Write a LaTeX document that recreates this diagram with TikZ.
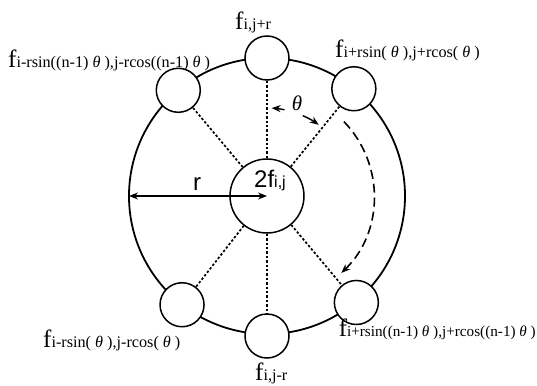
\documentclass[tikz,border=0pt]{standalone}
\usepackage{fontspec}
\setmainfont{Liberation Serif}
\setsansfont{Liberation Sans}
\usetikzlibrary{arrows.meta, positioning, calc}

\newcommand{\fsub}[2][16.2]{{\fontsize{25}{27}\selectfont f}{\fontsize{#1}{18}\selectfont #2}}
\newcommand{\thv}{\textit{θ}}

\begin{document}
\begin{tikzpicture}[x=1pt, y=1pt, >={Stealth[length=9pt, width=7pt]},
    cell/.style={circle, draw, line width=1.5pt, fill=white, minimum size=44pt, inner sep=0pt},
    link/.style={line width=1.7pt, dash pattern=on 2.4pt off 2pt},
    lab/.style={inner sep=0pt, anchor=base west}]
    \useasboundingbox (-267,-189) rectangle (270,196);
    % outer ring and cells
    \draw[line width=1.8pt] (0,0) circle (138);
    \node[cell, minimum size=74pt] (c) at (0,0) {};
    \node[cell] (n) at (90:138) {};
    \node[cell] (ne) at (51:138) {};
    \node[cell] (nw) at (130:138) {};
    \node[cell] (sw) at (232:138) {};
    \node[cell] (s) at (270:140) {};
    \node[cell] (se) at (-50:139) {};

    \draw[link] (c) -- (n);
    \draw[link] (c) -- (ne);
    \draw[link] (c) -- (nw);
    \draw[link] (c) -- (sw);
    \draw[link] (c) -- (s);
    \draw[link] (c) -- (se);

    \node[inner sep=0pt, anchor=base] (cl) at (3,8) {\sffamily\fontsize{24}{26}\selectfont 2f{\fontsize{16}{18}\selectfont i,j}};

    % radius
    \coordinate (rl) at (180:138);
    \draw[<->, line width=1.4pt] (rl) -- (c.center) node[midway, above=1pt, xshift=-1pt] (rlab) {\sffamily\fontsize{24}{26}\selectfont r};

    % angle
    \node (th) at (72:97) {\fontsize{21}{23}\selectfont\thv};
    \draw[->, line width=1.4pt] (78.5:88) arc[start angle=78.5, end angle=87, radius=88];
    \draw[->, line width=1.4pt] (66:88) arc[start angle=66, end angle=54, radius=88];
    \draw[->, line width=1.6pt, dash pattern=on 9pt off 5pt] (44:107) arc[start angle=44, end angle=-46, radius=107];

    % labels
    \node[lab] (ln) at (-32,166) {\fsub{i,j+r}};
    \node[lab] (lne) at (68,138) {\fsub{i+rsin( \thv\ ),j+rcos( \thv\ )}};
    \node[lab] (lnw) at (-259,128) {\fsub{i-rsin((n-1) \thv\ ),j-rcos((n-1) \thv\ )}};
    \node[lab] (lsw) at (-224,-151) {\fsub{i-rsin( \thv\ ),j-rcos( \thv\ )}};
    \node[lab] (ls) at (-12,-184.5) {\fsub{i,j-r}};
    \node[lab, anchor=base east] (lse) at (269,-140) {\fsub[15.2]{i+rsin((n-1) \thv\ ),j+rcos((n-1) \thv\ )}};
\end{tikzpicture}
\end{document}
